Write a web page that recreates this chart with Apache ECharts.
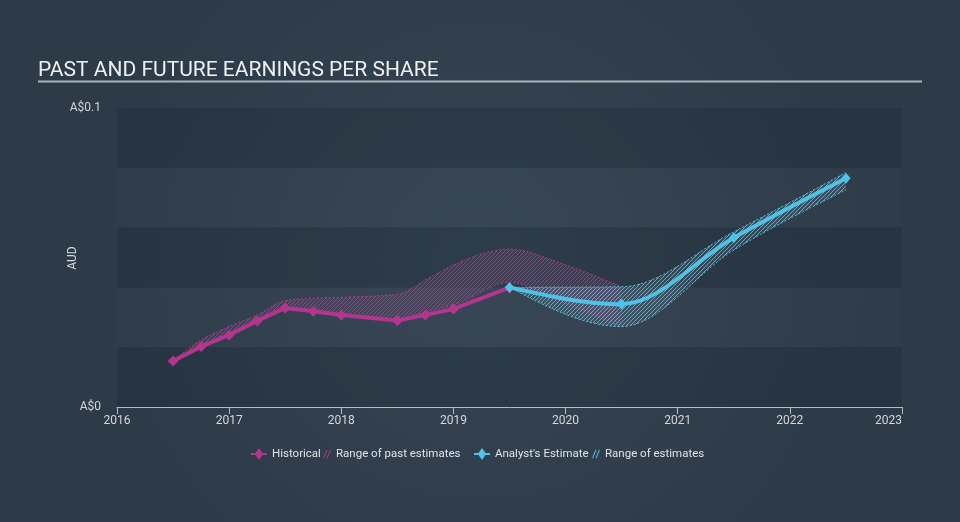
<!DOCTYPE html>
<html><head><meta charset="utf-8">
<script src="https://cdn.jsdelivr.net/npm/echarts@6/dist/echarts.min.js"></script>
<style>html,body{margin:0;padding:0;background:#323f4e}#c{width:960px;height:522px}</style>
</head><body><div id="c"></div>
<script>
// ---- data ----
const xTicks = [2016, 2017, 2018, 2019, 2020, 2021, 2022, 2023];
const yTickLabels = { 0: 'A$0', 0.1: 'A$0.1' };

const histDates = [2016.5, 2016.75, 2017.0, 2017.25, 2017.5, 2017.75, 2018.0, 2018.5, 2018.75, 2019.0, 2019.5];
const histEPS   = [0.0154, 0.0202, 0.0241, 0.0288, 0.0331, 0.0320, 0.0308, 0.0289, 0.0308, 0.0328, 0.0399];

const pastRangeDates = [2016.5, 2016.75, 2017.0, 2017.25, 2017.5, 2017.75, 2018.0, 2018.5, 2018.75, 2019.0, 2019.5, 2020.0, 2020.5];
const pastLow  = [0.0154, 0.0204, 0.0243, 0.0290, 0.0334, 0.0322, 0.0311, 0.0293, 0.0318, 0.0341, 0.0416, 0.0347, 0.0269];
const pastHigh = [0.0154, 0.0224, 0.0269, 0.0308, 0.0356, 0.0364, 0.0367, 0.0377, 0.0425, 0.0475, 0.0528, 0.0475, 0.0402];

const estDates = [2019.5, 2020.5, 2021.5, 2022.5];
const estEPS   = [0.0400, 0.0344, 0.0566, 0.0765];
const estLow   = [0.0400, 0.0269, 0.0525, 0.0726];
const estHigh  = [0.0400, 0.0402, 0.0586, 0.0784];

const legendNames = ['Historical', 'Range of past estimates', "Analyst's Estimate", 'Range of estimates'];

// ---- style ----
const MAG = '#b3358e';
const CYAN = '#4fc2e6';
const FONT = 'Roboto';

function hatch(color) {
  const s = 4;
  const c = document.createElement('canvas'); c.width = s; c.height = s;
  const g = c.getContext('2d');
  g.strokeStyle = color; g.lineWidth = 1;
  g.beginPath();
  g.moveTo(0, s); g.lineTo(s, 0);
  g.moveTo(-1, 1); g.lineTo(1, -1);
  g.moveTo(s - 1, s + 1); g.lineTo(s + 1, s - 1);
  g.stroke();
  return c;
}
const pairs = (xs, ys) => xs.map((x, i) => [x, ys[i]]);

// monotone-x cubic segments in pixel space
const sgn = v => v < 0 ? -1 : 1;
function slope3(a, b, c) {
  const h0 = b[0] - a[0], h1 = c[0] - b[0];
  const s0 = (b[1] - a[1]) / h0, s1 = (c[1] - b[1]) / h1;
  const p = (s0 * h1 + s1 * h0) / (h0 + h1);
  return (sgn(s0) + sgn(s1)) * Math.min(Math.abs(s0), Math.abs(s1), 0.5 * Math.abs(p)) || 0;
}
function slope2(a, b, t) { return (3 * (b[1] - a[1]) / (b[0] - a[0]) - t) / 2; }
function monoSegs(pts) {
  const n = pts.length, t = new Array(n);
  if (n === 2) { const s = (pts[1][1] - pts[0][1]) / (pts[1][0] - pts[0][0]); t[0] = t[1] = s; }
  else {
    for (let i = 1; i < n - 1; i++) t[i] = slope3(pts[i - 1], pts[i], pts[i + 1]);
    t[0] = slope2(pts[0], pts[1], t[1]);
    t[n - 1] = slope2(pts[n - 2], pts[n - 1], t[n - 2]);
  }
  const segs = [];
  for (let i = 0; i < n - 1; i++) {
    const [x0, y0] = pts[i], [x1, y1] = pts[i + 1], dx = (x1 - x0) / 3;
    segs.push({ p0: [x0, y0], c1: [x0 + dx, y0 + dx * t[i]], c2: [x1 - dx, y1 - dx * t[i + 1]], p1: [x1, y1] });
  }
  return segs;
}
const f = v => v.toFixed(2);
function curveD(pts) {
  const segs = monoSegs(pts);
  let d = 'M' + f(pts[0][0]) + ' ' + f(pts[0][1]);
  segs.forEach(s => { d += ' C' + f(s.c1[0]) + ' ' + f(s.c1[1]) + ' ' + f(s.c2[0]) + ' ' + f(s.c2[1]) + ' ' + f(s.p1[0]) + ' ' + f(s.p1[1]); });
  return d;
}
function bandD(up, lo) {
  let d = curveD(up);
  const segs = monoSegs(lo).reverse();
  const last = lo[lo.length - 1];
  d += ' L' + f(last[0]) + ' ' + f(last[1]);
  segs.forEach(s => { d += ' C' + f(s.c2[0]) + ' ' + f(s.c2[1]) + ' ' + f(s.c1[0]) + ' ' + f(s.c1[1]) + ' ' + f(s.p0[0]) + ' ' + f(s.p0[1]); });
  return d + ' Z';
}

function bandSeries(name, xs, lo, hi, color, tint, pat, z) {
  return {
    name, type: 'custom', z, silent: true,
    itemStyle: { color },
    data: pairs(xs, hi),
    renderItem: (params, api) => {
      if (params.dataIndex !== 0) return null;
      const up = xs.map((x, i) => api.coord([x, hi[i]]));
      const dn = xs.map((x, i) => api.coord([x, lo[i]]));
      const area = bandD(up, dn);
      return { type: 'group', children: [
        { type: 'path', shape: { pathData: area }, style: { fill: tint, stroke: null } },
        { type: 'path', shape: { pathData: area }, style: { fill: { image: pat, repeat: 'repeat' }, stroke: null } },
        { type: 'path', shape: { pathData: curveD(up) }, style: { fill: null, stroke: color, lineWidth: 1, lineDash: [2, 2] } },
        { type: 'path', shape: { pathData: curveD(dn) }, style: { fill: null, stroke: color, lineWidth: 1, lineDash: [2, 2] } }
      ] };
    }
  };
}

const diamondPts = (p, r) => [[p[0], p[1] - r], [p[0] + r * 0.85, p[1]], [p[0], p[1] + r], [p[0] - r * 0.85, p[1]]];

const chart = echarts.init(document.getElementById('c'), null, { renderer: 'canvas' });
const hatchIcon = 'path://M0,10 L4,0 L5.2,0 L1.2,10 Z M4,10 L8,0 L9.2,0 L5.2,10 Z';
const lineIcon = 'path://M0,5 L4.5,5 L8,0 L11.5,5 L16,5 L16,7 L11.5,7 L8,12 L4.5,7 L0,7 Z';
const legendText = { color: '#dfe3e8', fontSize: 11.5, fontFamily: FONT };
const mkLegend = (name, left, icon, w, h) => ({
  left, top: 448, padding: 0, itemGap: 0, itemWidth: w, itemHeight: h, textStyle: legendText,
  selectedMode: false, data: [{ name, icon }]
});
chart.setOption({
  animation: false,
  backgroundColor: { type: 'radial', x: 0.5, y: 0.5, r: 0.75,
    colorStops: [{ offset: 0, color: '#364554' }, { offset: 1, color: '#2d3a48' }] },
  textStyle: { fontFamily: FONT },
  title: { text: 'PAST AND FUTURE EARNINGS PER SHARE', left: 33, top: 55,
    textStyle: { color: '#eef0f3', fontSize: 21, fontWeight: 'normal', fontFamily: FONT } },
  graphic: [
    { type: 'line', shape: { x1: 38, y1: 81.5, x2: 922, y2: 81.5 }, style: { stroke: '#aab1b9', lineWidth: 2 } },
    { type: 'text', x: 73, y: 258, rotation: Math.PI / 2,
      style: { text: 'AUD', fill: '#d3d7dc', fontSize: 12, fontFamily: FONT, align: 'center', verticalAlign: 'middle' } }
  ],
  legend: [
    mkLegend(legendNames[0], 251, lineIcon, 16, 12),
    mkLegend(legendNames[1], 323, hatchIcon, 8, 10),
    mkLegend(legendNames[2], 474, lineIcon, 16, 12),
    mkLegend(legendNames[3], 592, hatchIcon, 8, 10)
  ],
  grid: { left: 117, right: 58, top: 108, bottom: 115, containLabel: false },
  xAxis: {
    type: 'value', min: xTicks[0], max: xTicks[xTicks.length - 1], interval: 1,
    axisLine: { show: true, lineStyle: { color: '#b4bcc5', width: 1 } },
    axisTick: { show: true, length: 7, lineStyle: { color: '#b4bcc5' } },
    axisLabel: { color: '#d3d7dc', fontSize: 12, margin: 8, alignMaxLabel: 'right',
      formatter: v => String(Math.round(v)) },
    splitLine: { show: false }
  },
  yAxis: {
    type: 'value', min: 0, max: 0.1, interval: 0.02,
    axisLine: { show: false }, axisTick: { show: false },
    axisLabel: { color: '#d3d7dc', fontSize: 12, margin: 16,
      formatter: v => { const k = Math.round(v * 1000) / 1000; return yTickLabels[k] || ''; } },
    splitLine: { show: false },
    splitArea: { show: true, areaStyle: { color: ['rgba(20,30,42,0.22)', 'rgba(255,255,255,0.012)'] } }
  },
  series: [
    bandSeries(legendNames[1], pastRangeDates, pastLow, pastHigh, MAG, 'rgba(179,53,142,0.16)',
      hatch('rgba(179,53,142,0.9)'), 1),
    bandSeries(legendNames[3], estDates, estLow, estHigh, CYAN, 'rgba(79,194,230,0.14)',
      hatch('rgba(79,194,230,0.85)'), 1),
    { name: legendNames[0], type: 'line', data: pairs(histDates, histEPS), z: 3,
      symbol: 'diamond', symbolSize: 11, showSymbol: true,
      itemStyle: { color: MAG }, lineStyle: { color: MAG, width: 4 } },
    { name: legendNames[2], type: 'custom', z: 4, silent: true,
      itemStyle: { color: CYAN },
      data: pairs(estDates, estEPS),
      renderItem: (params, api) => {
        if (params.dataIndex !== 0) return null;
        const pts = estDates.map((x, i) => api.coord([x, estEPS[i]]));
        const kids = [{ type: 'path', shape: { pathData: curveD(pts) },
          style: { fill: null, stroke: CYAN, lineWidth: 4, lineJoin: 'round', lineCap: 'round' } }];
        pts.forEach(p => kids.push({ type: 'polygon', shape: { points: diamondPts(p, 5.5) }, style: { fill: CYAN } }));
        return { type: 'group', children: kids };
      } }
  ]
});
</script></body></html>
